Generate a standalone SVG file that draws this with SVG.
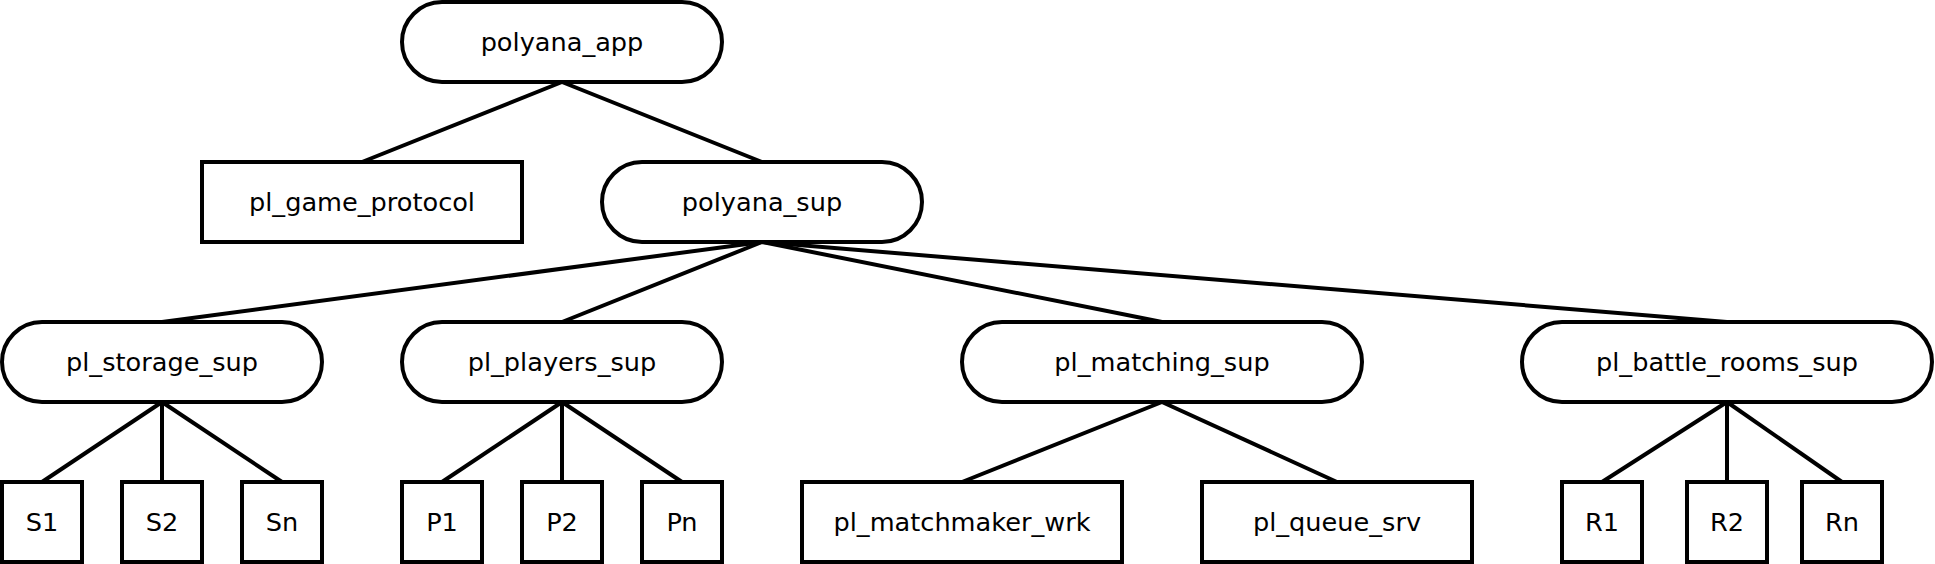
<svg xmlns="http://www.w3.org/2000/svg" width="1935" height="564" viewBox="0 0 1935 564">
<style>
.n{fill:#fff;stroke:#000;stroke-width:4}
.t{font-family:"DejaVu Sans",sans-serif;font-size:25.6px;text-anchor:middle;fill:#000}
.c line{stroke:#000;stroke-width:4}
</style>
<rect width="1935" height="564" fill="#fff"/>
<g id="connectors" class="c">
<line x1="562" y1="82" x2="362" y2="162"/>
<line x1="562" y1="82" x2="762" y2="162"/>
<line x1="762" y1="242" x2="162" y2="322"/>
<line x1="762" y1="242" x2="562" y2="322"/>
<line x1="762" y1="242" x2="1162" y2="322"/>
<line x1="762" y1="242" x2="1727" y2="322"/>
<line x1="162" y1="402" x2="42" y2="482"/>
<line x1="162" y1="402" x2="162" y2="482"/>
<line x1="162" y1="402" x2="282" y2="482"/>
<line x1="562" y1="402" x2="442" y2="482"/>
<line x1="562" y1="402" x2="562" y2="482"/>
<line x1="562" y1="402" x2="682" y2="482"/>
<line x1="1162" y1="402" x2="962" y2="482"/>
<line x1="1162" y1="402" x2="1337" y2="482"/>
<line x1="1727" y1="402" x2="1602" y2="482"/>
<line x1="1727" y1="402" x2="1727" y2="482"/>
<line x1="1727" y1="402" x2="1842" y2="482"/>
</g>
<g id="polyana_app"><rect class="n" x="402" y="2" width="320" height="80" rx="40"/><text class="t" x="562" y="51">polyana_app</text></g>
<g id="pl_game_protocol"><rect class="n" x="202" y="162" width="320" height="80"/><text class="t" x="362" y="211">pl_game_protocol</text></g>
<g id="polyana_sup"><rect class="n" x="602" y="162" width="320" height="80" rx="40"/><text class="t" x="762" y="211">polyana_sup</text></g>
<g id="pl_storage_sup"><rect class="n" x="2" y="322" width="320" height="80" rx="40"/><text class="t" x="162" y="371">pl_storage_sup</text></g>
<g id="pl_players_sup"><rect class="n" x="402" y="322" width="320" height="80" rx="40"/><text class="t" x="562" y="371">pl_players_sup</text></g>
<g id="pl_matching_sup"><rect class="n" x="962" y="322" width="400" height="80" rx="40"/><text class="t" x="1162" y="371">pl_matching_sup</text></g>
<g id="pl_battle_rooms_sup"><rect class="n" x="1522" y="322" width="410" height="80" rx="40"/><text class="t" x="1727" y="371">pl_battle_rooms_sup</text></g>
<g id="S1"><rect class="n" x="2" y="482" width="80" height="80"/><text class="t" x="42" y="531">S1</text></g>
<g id="S2"><rect class="n" x="122" y="482" width="80" height="80"/><text class="t" x="162" y="531">S2</text></g>
<g id="Sn"><rect class="n" x="242" y="482" width="80" height="80"/><text class="t" x="282" y="531">Sn</text></g>
<g id="P1"><rect class="n" x="402" y="482" width="80" height="80"/><text class="t" x="442" y="531">P1</text></g>
<g id="P2"><rect class="n" x="522" y="482" width="80" height="80"/><text class="t" x="562" y="531">P2</text></g>
<g id="Pn"><rect class="n" x="642" y="482" width="80" height="80"/><text class="t" x="682" y="531">Pn</text></g>
<g id="pl_matchmaker_wrk"><rect class="n" x="802" y="482" width="320" height="80"/><text class="t" x="962" y="531">pl_matchmaker_wrk</text></g>
<g id="pl_queue_srv"><rect class="n" x="1202" y="482" width="270" height="80"/><text class="t" x="1337" y="531">pl_queue_srv</text></g>
<g id="R1"><rect class="n" x="1562" y="482" width="80" height="80"/><text class="t" x="1602" y="531">R1</text></g>
<g id="R2"><rect class="n" x="1687" y="482" width="80" height="80"/><text class="t" x="1727" y="531">R2</text></g>
<g id="Rn"><rect class="n" x="1802" y="482" width="80" height="80"/><text class="t" x="1842" y="531">Rn</text></g>
</svg>
